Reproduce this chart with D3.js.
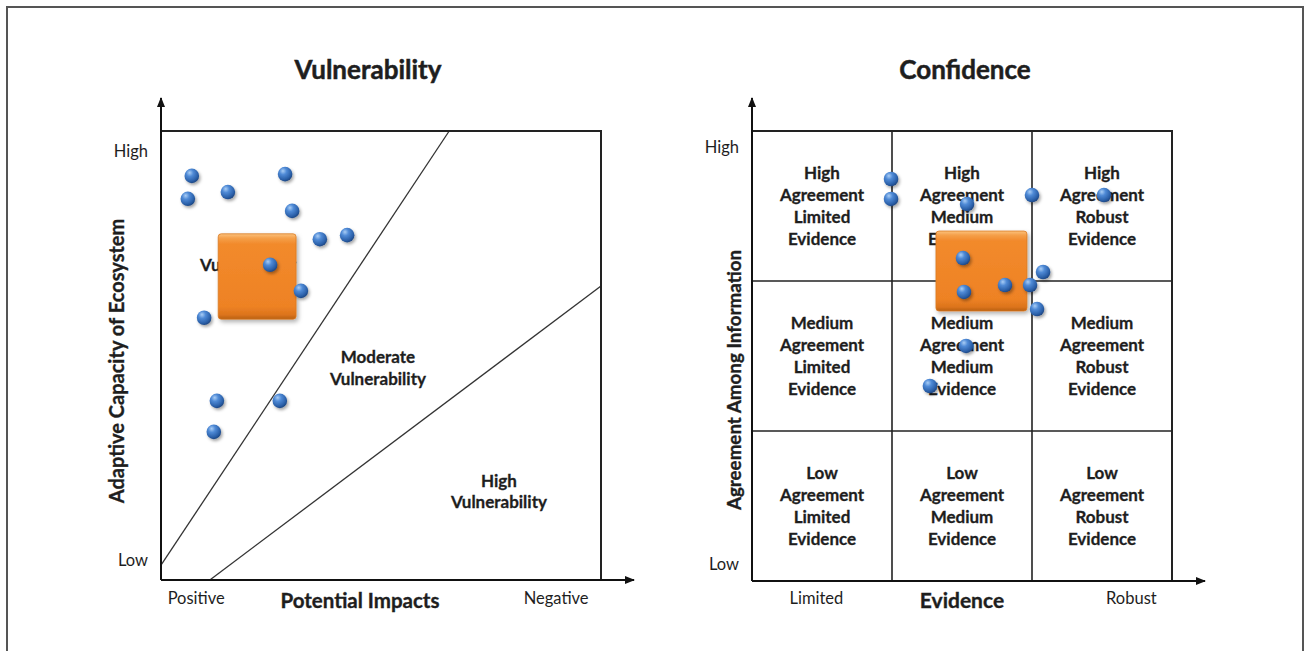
<!DOCTYPE html>
<html><head><meta charset="utf-8">
<script src="https://cdn.jsdelivr.net/npm/d3@7"></script>
<style>
body{margin:0;background:#fff}
svg{display:block}
text{font-family:Lato,"Liberation Sans",sans-serif;fill:#1e1e1e}
</style>
</head><body>
<svg id="chart" width="1304" height="651"></svg>
<script>
// ---------- DATA ----------
const panelTitles = ["Vulnerability", "Confidence"];

// Vulnerability panel (data units 0..10 on both axes)
const vulnXTicks = [{label: "Positive", v: 0.8}, {label: "Negative", v: 8.98}];
const vulnYTicks = [{label: "Low", v: 0.45}, {label: "High", v: 9.55}];
const vulnXTitle = "Potential Impacts";
const vulnYTitle = "Adaptive Capacity of Ecosystem";
const vulnPoints = [
  [0.70, 9.00], [0.61, 8.49], [1.52, 8.64], [2.82, 9.04], [2.98, 8.22],
  [3.61, 7.59], [4.23, 7.68], [0.98, 5.84], [1.27, 3.99], [2.70, 3.99],
  [1.20, 3.30]
];
const vulnPointsFront = [[2.48, 7.02], [3.18, 6.44]];
const vulnBox = {x0: 1.30, x1: 3.07, y0: 5.81, y1: 7.71};
const vulnDividers = [
  [[0, 0.33], [6.55, 10]],
  [[1.11, 0], [10, 6.55]]
];
const vulnRegions = [
  {lines: ["Low", "Vulnerability"], x: 1.98, y: 7.26},
  {lines: ["Moderate", "Vulnerability"], x: 4.93, y: 4.72},
  {lines: ["High", "Vulnerability"], x: 7.68, y: 1.97}
];

// Confidence panel (data units 0..3 on both axes)
const confXTicks = [{label: "Limited", v: 0.46}, {label: "Robust", v: 2.71}];
const confYTicks = [{label: "Low", v: 0.11}, {label: "High", v: 2.89}];
const confXTitle = "Evidence";
const confYTitle = "Agreement Among Information";
const agreementLevels = ["Low", "Medium", "High"];      // bottom -> top
const evidenceLevels = ["Limited", "Medium", "Robust"]; // left -> right
const confPoints = [
  [0.993, 2.68], [0.993, 2.547], [1.536, 2.513], [2.0, 2.573], [2.514, 2.573],
  [1.507, 2.153], [1.514, 1.927], [1.807, 1.973], [1.986, 1.973], [2.079, 2.06],
  [2.036, 1.813], [1.529, 1.567], [1.271, 1.30]
];
const confBox = {x0: 1.314, x1: 1.964, y0: 1.80, y1: 2.333};

// ---------- DRAW ----------
const svg = d3.select("#chart");
const defs = svg.append("defs");

const ball = defs.append("radialGradient").attr("id", "ball")
  .attr("cx", "38%").attr("cy", "32%").attr("r", "70%").attr("fx", "35%").attr("fy", "28%");
ball.append("stop").attr("offset", "0%").attr("stop-color", "#a9cdf5");
ball.append("stop").attr("offset", "35%").attr("stop-color", "#4f8ad6");
ball.append("stop").attr("offset", "80%").attr("stop-color", "#2a5fa8");
ball.append("stop").attr("offset", "100%").attr("stop-color", "#1d4580");

const orange = defs.append("linearGradient").attr("id", "orange")
  .attr("x1", 0).attr("y1", 0).attr("x2", 0).attr("y2", 1);
[["0%", "#fbc27e"], ["5%", "#f5a04a"], ["12%", "#f28a2c"], ["85%", "#ee8224"], ["95%", "#dc741c"], ["100%", "#b85f12"]]
  .forEach(([o, c]) => orange.append("stop").attr("offset", o).attr("stop-color", c));

const sh = defs.append("filter").attr("id", "shadow").attr("x", "-30%").attr("y", "-30%").attr("width", "170%").attr("height", "170%");
sh.append("feDropShadow").attr("dx", 1.5).attr("dy", 2).attr("stdDeviation", 1.4)
  .attr("flood-color", "#000").attr("flood-opacity", 0.35);
const sh2 = defs.append("filter").attr("id", "shadow2").attr("x", "-10%").attr("y", "-10%").attr("width", "130%").attr("height", "130%");
sh2.append("feDropShadow").attr("dx", 2).attr("dy", 2.5).attr("stdDeviation", 2)
  .attr("flood-color", "#000").attr("flood-opacity", 0.3);

defs.append("marker").attr("id", "arrow").attr("viewBox", "0 0 10 10")
  .attr("refX", 9).attr("refY", 5).attr("markerWidth", 10).attr("markerHeight", 10)
  .attr("markerUnits", "userSpaceOnUse").attr("orient", "auto")
  .append("path").attr("d", "M0,1 L10,5 L0,9 Z").attr("fill", "#111");

// outer frame
svg.append("path").attr("d", "M7,660 L7,7 L1303,7 L1303,660")
  .attr("fill", "none").attr("stroke", "#555").attr("stroke-width", 2);

const LINE = "#222";
const fsTick = 16.5, fsBold = 17, fsTitle = 26, lineH = 21.7;

function heavy(sel, w) {
  return sel.attr("stroke", "#1e1e1e").attr("stroke-width", w).attr("paint-order", "stroke");
}

function multiline(g, lines, x, y) {
  const t = g.append("text").attr("x", x).attr("y", y)
    .attr("text-anchor", "middle").attr("font-weight", "bold").attr("font-size", fsBold);
  heavy(t, 0.3);
  const n = lines.length;
  lines.forEach((s, i) => {
    t.append("tspan").attr("x", x).attr("y", y + (i - (n - 1) / 2) * lineH)
      .attr("dy", "0.35em").text(s);
  });
}

function frame(g, x, y, opt) {
  const [x0, x1] = x.range(), [y0, y1] = y.range();
  heavy(g.append("text").attr("x", opt.titleX).attr("y", 70).attr("dy", "0.35em")
    .attr("text-anchor", "middle").attr("font-weight", "bold").attr("font-size", fsTitle).text(opt.title), 0.5);
  g.selectAll(".xt").data(opt.xTicks).join("text")
    .attr("x", d => x(d.v)).attr("y", 598).attr("dy", "0.35em").attr("text-anchor", "middle")
    .attr("font-size", fsTick).attr("fill", "#333").text(d => d.label);
  g.selectAll(".yt").data(opt.yTicks).join("text")
    .attr("x", x0 - 13).attr("y", d => y(d.v)).attr("dy", "0.35em").attr("text-anchor", "end")
    .attr("font-size", fsTick).attr("fill", "#333").text(d => d.label);
  heavy(g.append("text").attr("x", opt.xTitleX).attr("y", 601).attr("dy", "0.35em")
    .attr("text-anchor", "middle").attr("font-weight", "bold").attr("font-size", opt.xTitleSize).text(opt.xTitle), 0.35);
  heavy(g.append("text").attr("transform", `translate(${opt.yTitleX},${opt.yTitleY}) rotate(-90)`)
    .attr("dy", "0.35em").attr("text-anchor", "middle").attr("font-weight", "bold")
    .attr("font-size", opt.yTitleSize).text(opt.yTitle), 0.35);
  g.append("path").attr("d", `M${x0},${y1} L${x1},${y1} L${x1},${y0}`)
    .attr("fill", "none").attr("stroke", LINE).attr("stroke-width", 2);
  g.append("line").attr("x1", x0).attr("y1", y0).attr("x2", x0).attr("y2", y1 - 33)
    .attr("stroke", "#111").attr("stroke-width", 2).attr("marker-end", "url(#arrow)");
  g.append("line").attr("x1", x0).attr("y1", y0).attr("x2", x1 + 33).attr("y2", y0)
    .attr("stroke", "#111").attr("stroke-width", 2).attr("marker-end", "url(#arrow)");
}

function balls(g, pts, x, y) {
  g.selectAll(null).data(pts).join("circle")
    .attr("cx", d => x(d[0])).attr("cy", d => y(d[1])).attr("r", 7.3)
    .attr("fill", "url(#ball)").attr("filter", "url(#shadow)");
}
function square(g, b, x, y) {
  g.append("rect").attr("x", x(b.x0)).attr("y", y(b.y1))
    .attr("width", x(b.x1) - x(b.x0)).attr("height", y(b.y0) - y(b.y1))
    .attr("rx", 3).attr("fill", "url(#orange)").attr("stroke", "#d97a22").attr("stroke-width", 0.8)
    .attr("filter", "url(#shadow2)");
}

// ---- Vulnerability panel ----
{
  const x = d3.scaleLinear().domain([0, 10]).range([161, 601]);
  const y = d3.scaleLinear().domain([0, 10]).range([580, 131]);
  const g = svg.append("g");
  const line = d3.line().x(d => x(d[0])).y(d => y(d[1]));
  g.selectAll(".div").data(vulnDividers).join("path")
    .attr("d", line).attr("fill", "none").attr("stroke", "#333").attr("stroke-width", 1.3);
  vulnRegions.forEach(r => multiline(g, r.lines, x(r.x), y(r.y)));
  frame(g, x, y, {title: panelTitles[0], titleX: 368, xTicks: vulnXTicks, yTicks: vulnYTicks,
    xTitle: vulnXTitle, xTitleX: 360, xTitleSize: 20.5,
    yTitle: vulnYTitle, yTitleX: 117, yTitleY: 361, yTitleSize: 20});
  balls(g, vulnPoints, x, y);
  square(g, vulnBox, x, y);
  balls(g, vulnPointsFront, x, y);
}

// ---- Confidence panel ----
{
  const x = d3.scaleLinear().domain([0, 3]).range([752, 1172]);
  const y = d3.scaleLinear().domain([0, 3]).range([581, 131]);
  const g = svg.append("g");
  g.selectAll(".vg").data([1, 2]).join("line")
    .attr("x1", d => x(d)).attr("x2", d => x(d)).attr("y1", y(0)).attr("y2", y(3))
    .attr("stroke", LINE).attr("stroke-width", 1.6);
  g.selectAll(".hg").data([1, 2]).join("line")
    .attr("y1", d => y(d)).attr("y2", d => y(d)).attr("x1", x(0)).attr("x2", x(3))
    .attr("stroke", LINE).attr("stroke-width", 1.6);
  agreementLevels.forEach((a, i) => evidenceLevels.forEach((e, j) => {
    multiline(g, [a, "Agreement", e, "Evidence"], x(j + 0.5), y(i + 0.5));
  }));
  frame(g, x, y, {title: panelTitles[1], titleX: 965, xTicks: confXTicks, yTicks: confYTicks,
    xTitle: confXTitle, xTitleX: x(1.5), xTitleSize: 21,
    yTitle: confYTitle, yTitleX: 734, yTitleY: 380, yTitleSize: 18.8});
  square(g, confBox, x, y);
  balls(g, confPoints, x, y);
}
</script>
</body></html>
